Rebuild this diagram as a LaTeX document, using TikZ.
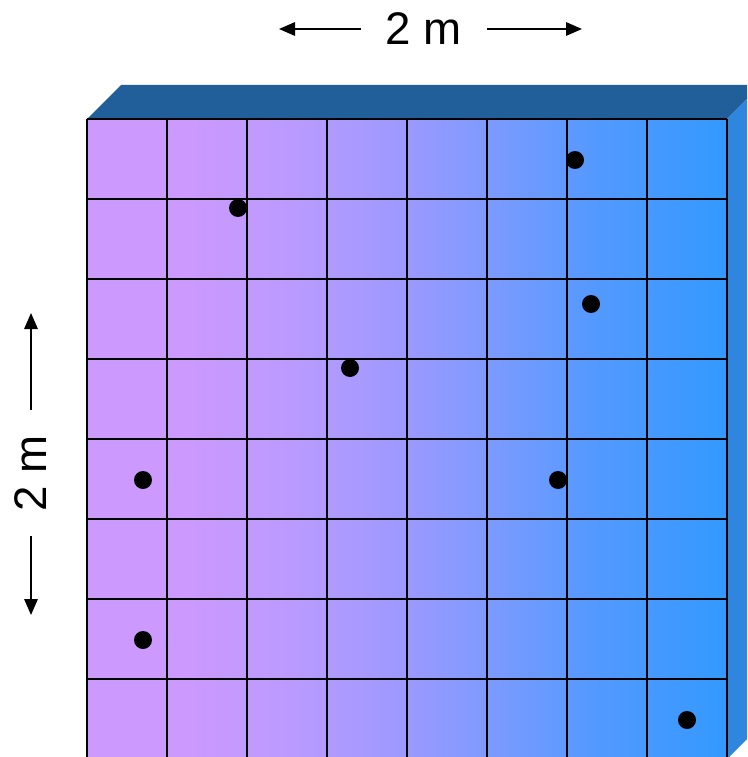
\documentclass[tikz,border=0pt]{standalone}
\usepackage{fontspec}
\setmainfont{Liberation Sans}
\usetikzlibrary{arrows.meta}
\definecolor{topface}{HTML}{215F9A}
\definecolor{sideface}{HTML}{2E86DE}
% front face: violet on the left, blue on the right (path spans 25bp..75bp)
\pgfdeclarehorizontalshading{facegradient}{100bp}{
  rgb(0bp)=(0.8,0.6,1); rgb(33bp)=(0.8,0.6,1);
  rgb(41bp)=(0.73,0.605,1); rgb(50bp)=(0.61,0.6,1);
  rgb(57.5bp)=(0.47,0.605,1); rgb(65bp)=(0.32,0.6,1);
  rgb(75bp)=(0.2,0.6,1); rgb(100bp)=(0.2,0.6,1)}

\begin{document}
\begin{tikzpicture}[
    x=0.02cm, y=-0.02cm,
    dimarrow/.style={
        black,
        line width=0.85pt,
        -{Triangle[length=0.32cm, width=0.27cm]},
    },
    dimlabel/.style={font=\fontsize{26}{30}\selectfont, inner ysep=0pt, inner xsep=0.5cm},
    gridline/.style={black, line width=1.1pt},
]
\useasboundingbox (0,0) rectangle (747,757);
\clip (0,0) rectangle (747,757);

% =============================================
% BLOCK – front face, top face, side face
% =============================================
\shade[shading=facegradient] (87,119) rectangle (727,759);
\fill[topface] (87,119) -- (121,85) -- (761,85) -- (727,119) -- cycle;
\fill[sideface] (727,119) -- (761,85) -- (761,725) -- (727,759) -- cycle;

% Grid, 8 x 8 cells
\foreach \i in {0,...,8} {
  \draw[gridline] (87+80*\i,119) -- (87+80*\i,759);
  \draw[gridline] (87,119+80*\i) -- (727,119+80*\i);
}

% Dots
\foreach \px/\py in {575/160, 238/208, 591/304, 350/368, 143/480, 558/480, 143/640, 687/720}
  \fill[black] (\px,\py) circle[radius=0.18cm];

% =============================================
% DIMENSIONS
% =============================================
\node[dimlabel] (widthlabel) at (424,29) {2 m};
\coordinate (widthleft) at (279,29);
\coordinate (widthright) at (582,29);
\draw[dimarrow] (widthlabel) -- (widthleft);
\draw[dimarrow] (widthlabel) -- (widthright);

\node[dimlabel, rotate=90] (heightlabel) at (31,473) {2 m};
\coordinate (heighttop) at (31,313);
\coordinate (heightbottom) at (31,615);
\draw[dimarrow] (heightlabel) -- (heighttop);
\draw[dimarrow] (heightlabel) -- (heightbottom);

\end{tikzpicture}
\end{document}
